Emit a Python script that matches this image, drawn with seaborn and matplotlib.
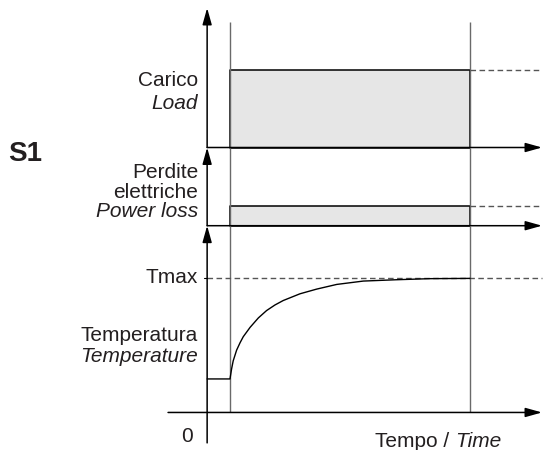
import matplotlib
matplotlib.use("Agg")
import matplotlib.pyplot as plt
import seaborn as sns
import pandas as pd

# dati del diagramma S1 (servizio continuo)
t_on = 1.0
t_off = 11.5
load_level = 1.0
loss_level = 0.25
t_max = 100
t_amb = 25

# curva di temperatura
time_curve = [0, 1.0, 1.07, 1.14, 1.29, 1.44, 1.58, 1.88, 2.24, 2.6, 2.97, 3.33, 4.06, 4.79,
              5.67, 6.83, 8.29, 9.75, 11.5]
temp_curve = [25, 25, 32.5, 38.5, 46.5, 52, 56.5, 63.5, 70.5, 76, 80.2, 83.5, 88.5, 92,
              95.5, 98, 99, 99.8, 100]

W, H = 543, 450
X0, X1 = 160, 550
XLIM = ((X0 - 207.14) / 22.857, (X1 - 207.14) / 22.857)
T_END = 14.65

sns.set_theme(style="white")
plt.rcParams['font.family'] = ['Liberation Sans', 'DejaVu Sans']

fig = plt.figure(figsize=(W / 100, H / 100), dpi=100)


def px_axes(top, bottom):
    ax = fig.add_axes([X0 / W, 1 - bottom / H, (X1 - X0) / W, (bottom - top) / H])
    ax.set_xlim(*XLIM)
    ax.set_axis_off()
    ax.patch.set_alpha(0)
    return ax


def arrow(ax, start, end):
    ax.annotate('', xy=end, xytext=start,
                arrowprops=dict(arrowstyle='-|>,head_length=0.5,head_width=0.14',
                                mutation_scale=20, lw=1.1, color='black',
                                shrinkA=0, shrinkB=0),
                annotation_clip=False)


dash = dict(color='#555555', lw=1.0, ls=(0, (4, 2.5)))
grey_line = dict(color='#6a6a6a', lw=1.0)
fill = '#e6e6e6'

# pannello carico
ax1 = px_axes(8, 147.5)
ax1.set_ylim(0, 1.807)
ax1.fill_between([t_on, t_off], 0, load_level, facecolor=fill, edgecolor='black', lw=1.1)
ax1.vlines([t_on, t_off], 0, 1.622, **grey_line)
ax1.plot([t_off, T_END], [load_level, load_level], **dash)
arrow(ax1, (0, 0), (0, 1.807))
arrow(ax1, (0, 0), (T_END, 0))

# pannello perdite
ax2 = px_axes(147.5, 225.7)
ax2.set_ylim(0, 1.0)
ax2.fill_between([t_on, t_off], 0, loss_level, facecolor=fill, edgecolor='black', lw=1.1)
ax2.vlines([t_on, t_off], 0, 1.0, **grey_line)
ax2.plot([t_off, T_END], [loss_level, loss_level], **dash)
arrow(ax2, (0, 0), (0, 1.0))
arrow(ax2, (0, 0), (T_END, 0))

# pannello temperatura
ax3 = px_axes(225.7, 450)
ax3.set_ylim(-28.0, 139.3)
ax3.vlines([t_on, t_off], 0, 139.3, **grey_line)
ax3.plot([0, T_END], [t_max, t_max], **dash)
ax3.plot([-0.15, 0], [t_max, t_max], color='black', lw=0.8)
df = pd.DataFrame({'t': time_curve, 'T': temp_curve})
sns.lineplot(data=df, x='t', y='T', ax=ax3, color='black', lw=1.0)
ax3.set_axis_off()
arrow(ax3, (0, -22.7), (0, 139.3))
arrow(ax3, (-1.71, 0), (T_END, 0))

# testi
fs = 15


def label(x, y, s, **kw):
    return fig.text(x / W, 1 - y / H, s, fontsize=fs, color='#231f20', va='baseline', **kw)


label(198, 86, 'Carico', ha='right')
label(198, 109, 'Load', ha='right', style='italic')
label(198, 178.3, 'Perdite', ha='right')
label(198, 197.7, 'elettriche', ha='right')
label(198, 216.7, 'Power loss', ha='right', style='italic')
label(198, 282.7, 'Tmax', ha='right')
label(198, 341, 'Temperatura', ha='right')
label(198, 361.7, 'Temperature', ha='right', style='italic')
label(186.5, 442, '0', ha='center')
tempo = label(375, 447, 'Tempo /', ha='left')
# "Time" in corsivo subito dopo "Tempo /"
ax3.annotate('Time', xy=(1, 0), xycoords=tempo, xytext=(4.2, 0), textcoords='offset points',
             fontsize=fs, color='#231f20', style='italic', va='bottom', ha='left',
             annotation_clip=False)
fig.text(8 / W, 1 - 161 / H, 'S1', fontsize=20, fontweight='bold', color='#231f20',
         va='baseline', ha='left')

fig.savefig('out.png', dpi=100)
